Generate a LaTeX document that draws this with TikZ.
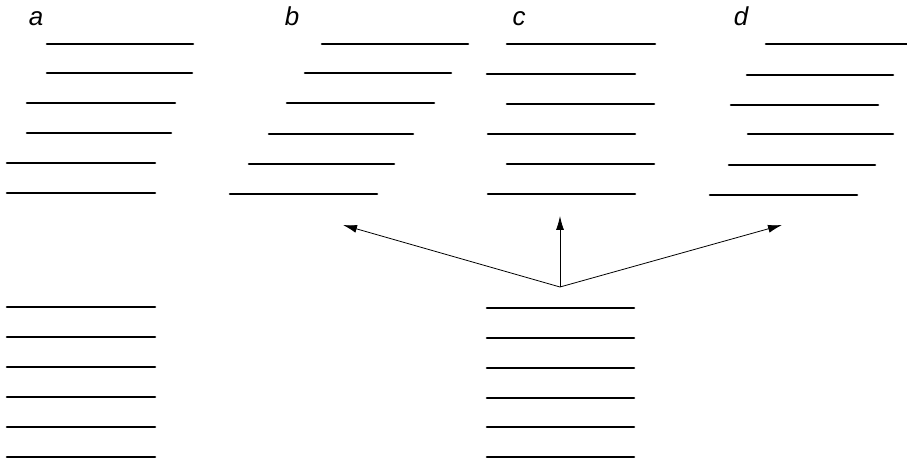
\documentclass[tikz,border=0pt]{standalone}
\usepackage{fontspec}
\setsansfont{Liberation Sans}
\usetikzlibrary{arrows.meta}
\begin{document}
\begin{tikzpicture}[x=1bp,y=-1bp,
  layer/.style={line width=2.6bp,line cap=round},
  shift arrow/.style={line width=0.8bp,-{Latex[length=14bp,width=8bp]}},
  label/.style={font=\sffamily\itshape\fontsize{26}{30}\selectfont,inner sep=0pt}]
\useasboundingbox (0,0) rectangle (907,461);
% labels
\node[label] (la) at (36,19) {a};
\node[label] (lb) at (292,16) {b};
\node[label] (lc) at (519,19) {c};
\node[label] (ld) at (741,16) {d};
% a: staggered in pairs
\foreach \y/\l/\r in {44/47/193,73/47/192,103/27/175,133/27/171,163/7/155,193/7/155}
  \draw[layer] (\l,\y) -- (\r,\y);
% b: uniform shear
\foreach \y/\l/\r in {44/322/468,73/305/451,103/287/434,134/269/413,164/249/394,194/230/377}
  \draw[layer] (\l,\y) -- (\r,\y);
% c: alternating offset
\foreach \y/\l/\r in {44/507/655,74/487/635,104/507/654,134/488/635,164/507/654,194/488/635}
  \draw[layer] (\l,\y) -- (\r,\y);
% d: irregular
\foreach \y/\l/\r in {44/766/907,75/747/893,105/731/878,134/748/893,165/729/875,195/710/857}
  \draw[layer] (\l,\y) -- (\r,\y);
% undisturbed stacks
\foreach \y in {307,337,367,397,427,457}
  \draw[layer] (7,\y) -- (155,\y);
\foreach \y in {308,338,368,398,427,457}
  \draw[layer] (487,\y) -- (634,\y);
% transitions
\coordinate (o) at (560,287);
\coordinate (tb) at (343,225);
\coordinate (tc) at (560,216);
\coordinate (td) at (782,225);
\draw[shift arrow] (o) -- (tb);
\draw[shift arrow] (o) -- (tc);
\draw[shift arrow] (o) -- (td);
\end{tikzpicture}
\end{document}
